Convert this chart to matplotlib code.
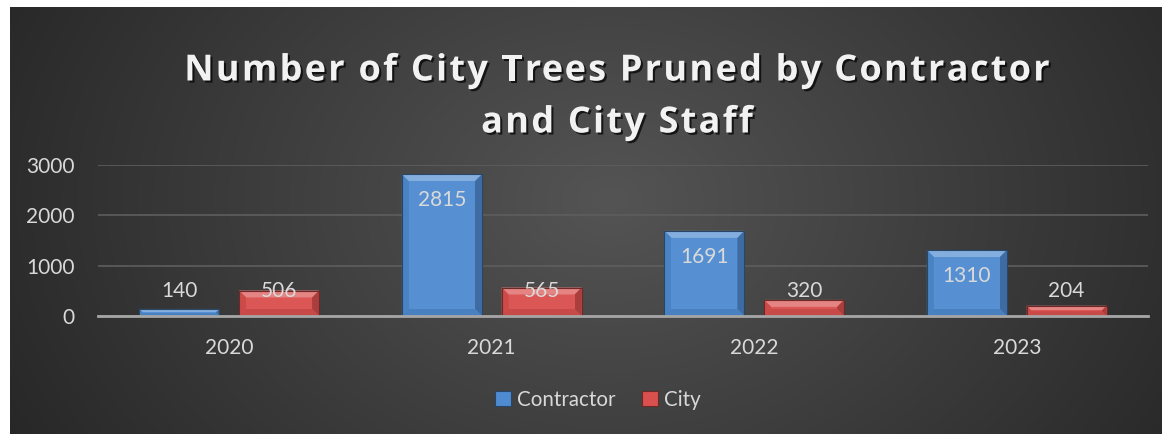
import numpy as np
import matplotlib
matplotlib.use("Agg")
import matplotlib.pyplot as plt
import matplotlib.patheffects as pe
from matplotlib.patches import Polygon, Rectangle
from matplotlib.colors import to_rgb
from matplotlib.font_manager import FontProperties

# ---- data ----
years = ["2020", "2021", "2022", "2023"]
contractor = [140, 2815, 1691, 1310]
city = [506, 565, 320, 204]
series_names = ["Contractor", "City"]
title_lines = ["Number of City Trees Pruned by Contractor", "and City Staff"]
yticks = [0, 1000, 2000, 3000]

BLUE = "#4f8bd0"
RED = "#d9504e"
TXT = "#d9d9d9"

W, H = 1163, 434
fig = plt.figure(figsize=(W / 100, H / 100), dpi=100)
fig.patch.set_facecolor("white")

# background radial gradient
bg = fig.add_axes([10 / W, 0, 1 - 11 / W, 1 - 7 / H])
bg.set_axis_off()
ny, nx = 300, 800
yy, xx = np.mgrid[0:ny, 0:nx]
cx, cy = nx * 0.52, ny * 0.45
r = np.sqrt(((xx - cx) / (nx * 0.62)) ** 2 + ((yy - cy) / (ny * 1.25)) ** 2)
r = np.clip(r, 0, 1)
inner, outer = np.array([0.33, 0.33, 0.33]), np.array([0.145, 0.145, 0.145])
img = inner[None, None, :] * (1 - r[..., None]) + outer[None, None, :] * r[..., None]
bg.imshow(img, aspect="auto", extent=[0, 1, 0, 1], interpolation="bilinear")
bg.set_xlim(0, 1)
bg.set_ylim(0, 1)

ax = fig.add_axes([98 / W, (H - 316) / H, (1148 - 98) / W, (316 - 165) / H])
ax.patch.set_alpha(0)
x = np.arange(len(years))
bw = 0.305
off = 0.19
ax.set_xlim(-0.5, len(years) - 0.5)
ax.set_ylim(0, 3000)

b1 = ax.bar(x - off, contractor, bw, color=BLUE, zorder=3, linewidth=0)
b2 = ax.bar(x + off, city, bw, color=RED, zorder=3, linewidth=0)


def shade(c, f):
    c = np.array(to_rgb(c))
    if f > 0:
        return tuple(c + (1 - c) * f)
    return tuple(c * (1 + f))


def bevel(bars, color):
    fig.canvas.draw()
    inv = ax.transData.inverted()
    for p in bars:
        x0, y0 = p.get_x(), p.get_y()
        x1, y1 = x0 + p.get_width(), y0 + p.get_height()
        (px0, py0), (px1, py1) = ax.transData.transform([(x0, y0), (x1, y1)])
        d = min(7, (py1 - py0) / 2.2, (px1 - px0) / 2.2)
        pts = inv.transform([(px0, py0), (px1, py0), (px1, py1), (px0, py1),
                             (px0 + d, py0 + d), (px1 - d, py0 + d),
                             (px1 - d, py1 - d), (px0 + d, py1 - d)])
        A, B, C, D, a, b, c, dd = pts
        ax.add_patch(Polygon([D, C, c, dd], closed=True, color=shade(color, 0.3), lw=0, zorder=4))
        ax.add_patch(Polygon([A, D, dd, a], closed=True, color=shade(color, -0.06), lw=0, zorder=4))
        ax.add_patch(Polygon([B, C, c, b], closed=True, color=shade(color, -0.22), lw=0, zorder=4))
        ax.add_patch(Polygon([A, B, b, a], closed=True, color=shade(color, -0.08), lw=0, zorder=4))
        ax.add_patch(Polygon([a, b, c, dd], closed=True, color=shade(color, 0.04), lw=0, zorder=4))
        ax.add_patch(Rectangle((x0, y0), x1 - x0, y1 - y0, fill=False,
                               ec=shade(color, -0.5), lw=0.8, zorder=5))


bevel(b1, BLUE)
bevel(b2, RED)

# data labels
for xi, v in zip(x - off, contractor):
    yl = v - 520 if v > 1000 else 500
    ax.text(xi, yl, str(v), ha="center", va="center", color=TXT,
            fontsize=15, family="Lato", zorder=6)
for xi, v in zip(x + off, city):
    ax.text(xi, 500, str(v), ha="center", va="center", color=TXT,
            fontsize=15, family="Lato", zorder=6)

ax.set_yticks(yticks)
ax.set_yticklabels([str(t) for t in yticks])
ax.set_xticks(x)
ax.set_xticklabels(years)
ax.tick_params(axis="both", length=0, labelsize=15, labelcolor=TXT)
ax.tick_params(axis="y", pad=17)
ax.tick_params(axis="x", pad=16)
for lab in ax.get_xticklabels() + ax.get_yticklabels():
    lab.set_family("Lato")
ax.grid(axis="y", color="#5e5e5e", lw=1.2, zorder=0)
for s in ["top", "right", "left"]:
    ax.spines[s].set_visible(False)
ax.spines["bottom"].set_color("#a6a6a6")
ax.spines["bottom"].set_linewidth(2)
ax.spines["bottom"].set_zorder(7)

# title with letter spacing
fp = FontProperties(family="Open Sans", weight="bold", size=26)
renderer = fig.canvas.get_renderer()
spacing = 2.2  # px extra per character
shadow = [pe.SimplePatchShadow(offset=(1.5, -1.5), shadow_rgbFace="black", alpha=0.7), pe.Normal()]
for line, yc in zip(title_lines, [67, 119]):
    widths = [renderer.get_text_width_height_descent(line[:i], fp, ismath=False)[0] if i else 0
              for i in range(len(line) + 1)]
    total = widths[-1] + spacing * (len(line) - 1)
    x_start = 617 - total / 2
    for i, ch in enumerate(line):
        if ch == " ":
            continue
        xp = x_start + widths[i] + spacing * i
        fig.text(xp / W, 1 - yc / H, ch, ha="left", va="center_baseline", color="#f2f2f2",
                 fontproperties=fp, path_effects=shadow)

# legend
leg = fig.legend([b1[0], b2[0]], series_names, loc="center", bbox_to_anchor=(598 / W, 1 - 400 / H),
                 ncol=2, frameon=False, labelcolor=TXT, handlelength=0.75,
                 handleheight=0.75, handletextpad=0.3, columnspacing=1.3,
                 prop={"family": "Lato", "size": 14.8})
for h, c in zip(leg.legend_handles, [BLUE, RED]):
    h.set_edgecolor(shade(c, -0.5))
    h.set_linewidth(0.8)

fig.savefig("out.png", dpi=100, facecolor=fig.get_facecolor())
